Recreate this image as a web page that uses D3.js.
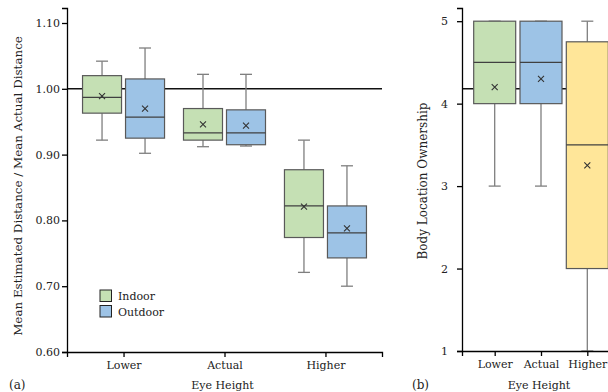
<!DOCTYPE html>
<html>
<head>
<meta charset="utf-8">
<script src="https://cdn.jsdelivr.net/npm/d3@7/dist/d3.min.js"></script>
<style>
  body { margin: 0; background: #fff; }
  svg { display: block; font-family: "DejaVu Serif", serif; }
  .axis path, .axis line { stroke: #000; stroke-width: 1.3; }
  .axis text { font-size: 11px; fill: #222; font-family: "DejaVu Serif", serif; }
</style>
</head>
<body>
<svg id="chart" width="608" height="392"></svg>
<script>
// panel (a): distance ratio by eye height and environment
const eyeHeights = ["Lower", "Actual", "Higher"];
const environments = ["Indoor", "Outdoor"];
const envColors = ["#c5e0b4", "#9dc3e6"];
const ratioTicks = [0.6, 0.7, 0.8, 0.9, 1.0, 1.1];

// [whiskerLow, q1, median, q3, whiskerHigh, mean]
const indoorStats = [
  [0.922, 0.963, 0.987, 1.020, 1.042, 0.989],
  [0.912, 0.922, 0.933, 0.970, 1.022, 0.946],
  [0.721, 0.774, 0.822, 0.877, 0.922, 0.821],
];
const outdoorStats = [
  [0.902, 0.925, 0.957, 1.015, 1.062, 0.970],
  [0.913, 0.915, 0.933, 0.968, 1.022, 0.944],
  [0.700, 0.743, 0.781, 0.822, 0.883, 0.788],
];
const ratioRef = 1.0;

// panel (b): body location ownership (Likert 1-5)
const ownershipColors = ["#c5e0b4", "#9dc3e6", "#ffe699"];
const ownershipTicks = [1, 2, 3, 4, 5];
const ownershipStats = [
  [3, 4, 4.5, 5, 5, 4.20],
  [3, 4, 4.5, 5, 5, 4.30],
  [1, 2, 3.5, 4.75, 5, 3.25],
];
const ownershipRef = 4.18;

const svg = d3.select("#chart");

function drawBox(g, cx, bw, s, y, fill) {
  const [lo, q1, med, q3, hi, mean] = s;
  const cap = 12;
  g.append("line").attr("x1", cx).attr("x2", cx).attr("y1", y(hi)).attr("y2", y(q3))
    .attr("stroke", "#7f7f7f").attr("stroke-width", 1.3);
  g.append("line").attr("x1", cx).attr("x2", cx).attr("y1", y(q1)).attr("y2", y(lo))
    .attr("stroke", "#7f7f7f").attr("stroke-width", 1.3);
  [lo, hi].forEach((v) => {
    g.append("line").attr("x1", cx - cap / 2).attr("x2", cx + cap / 2)
      .attr("y1", y(v)).attr("y2", y(v))
      .attr("stroke", "#7f7f7f").attr("stroke-width", 1.3);
  });
  g.append("rect").attr("x", cx - bw / 2).attr("width", bw)
    .attr("y", y(q3)).attr("height", y(q1) - y(q3))
    .attr("fill", fill).attr("stroke", "#595959").attr("stroke-width", 1.2);
  g.append("line").attr("x1", cx - bw / 2).attr("x2", cx + bw / 2)
    .attr("y1", y(med)).attr("y2", y(med))
    .attr("stroke", "#404040").attr("stroke-width", 1.2);
  const m = 3;
  g.append("path")
    .attr("d", `M${cx - m},${y(mean) - m}L${cx + m},${y(mean) + m}M${cx - m},${y(mean) + m}L${cx + m},${y(mean) - m}`)
    .attr("stroke", "#333").attr("stroke-width", 1.1);
}

// ---------- panel (a)
{
  const left = 67, right = 382, bottom = 352;
  const y = d3.scaleLinear().domain([0.6, 1.1228]).range([bottom, 8]);
  const x = d3.scalePoint().domain(eyeHeights).range([left, right]).padding(0.56);
  const g = svg.append("g");

  g.append("line").attr("x1", left).attr("x2", right)
    .attr("y1", y(ratioRef)).attr("y2", y(ratioRef))
    .attr("stroke", "#111").attr("stroke-width", 1.5);

  const off = 21.5, bw = 39;
  eyeHeights.forEach((h, i) => {
    drawBox(g, x(h) - off, bw, indoorStats[i], y, envColors[0]);
    drawBox(g, x(h) + off, bw, outdoorStats[i], y, envColors[1]);
  });

  g.append("g").attr("class", "axis").attr("transform", `translate(${left},0)`)
    .call(d3.axisLeft(y).tickValues(ratioTicks).tickFormat(d3.format(".2f")).tickSizeOuter(0).tickSize(5).tickPadding(2));
  g.append("g").attr("class", "axis").attr("transform", `translate(0,${bottom})`)
    .call(d3.axisBottom(x).tickSizeOuter(0).tickSize(5).tickPadding(4));

  g.append("text").attr("transform", `translate(22,186) rotate(-90)`)
    .attr("text-anchor", "middle").attr("font-size", 11.9).attr("fill", "#222")
    .text("Mean Estimated Distance / Mean Actual Distance");
  g.append("text").attr("x", (left + right) / 2 - 2).attr("y", 389)
    .attr("text-anchor", "middle").attr("font-size", 11).attr("fill", "#222").text("Eye Height");
  g.append("text").attr("x", 9).attr("y", 389).attr("font-size", 12).attr("fill", "#222").text("(a)");

  environments.forEach((e, i) => {
    g.append("rect").attr("x", 100).attr("y", 290 + i * 15.5).attr("width", 11.5).attr("height", 11.5)
      .attr("fill", envColors[i]).attr("stroke", "#222").attr("stroke-width", 1);
    g.append("text").attr("x", 118).attr("y", 300 + i * 15.5)
      .attr("font-size", 11).attr("fill", "#222").text(e);
  });
}

// ---------- panel (b)
{
  const left = 462, right = 620, bottom = 351;
  const y = d3.scaleLinear().domain([1, 5.16]).range([bottom, 8]);
  const x = d3.scalePoint().domain(eyeHeights).range([left, right]).padding(0.706);
  const g = svg.append("g");

  g.append("line").attr("x1", left).attr("x2", right)
    .attr("y1", y(ownershipRef)).attr("y2", y(ownershipRef))
    .attr("stroke", "#111").attr("stroke-width", 1.5);

  eyeHeights.forEach((h, i) => {
    drawBox(g, x(h), 42, ownershipStats[i], y, ownershipColors[i]);
  });

  g.append("g").attr("class", "axis").attr("transform", `translate(${left},0)`)
    .call(d3.axisLeft(y).tickValues(ownershipTicks).tickFormat(d3.format("d")).tickSizeOuter(0).tickSize(5).tickPadding(9));
  g.append("g").attr("class", "axis").attr("transform", `translate(0,${bottom})`)
    .call(d3.axisBottom(x).tickSizeOuter(0).tickSize(5).tickPadding(4));

  g.append("text").attr("transform", `translate(427,181) rotate(-90)`)
    .attr("text-anchor", "middle").attr("font-size", 12).attr("fill", "#222")
    .text("Body Location Ownership");
  g.append("text").attr("x", 539).attr("y", 389)
    .attr("text-anchor", "middle").attr("font-size", 11).attr("fill", "#222").text("Eye Height");
  g.append("text").attr("x", 412).attr("y", 389).attr("font-size", 12).attr("fill", "#222").text("(b)");
}
</script>
</body>
</html>
